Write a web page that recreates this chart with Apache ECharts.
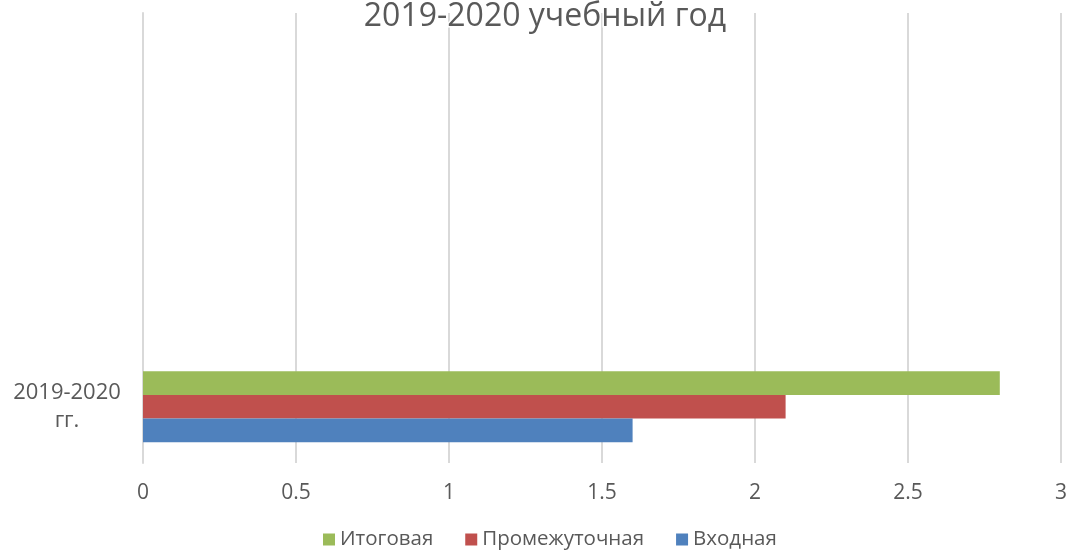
<!DOCTYPE html>
<html><head><meta charset="utf-8">
<script src="https://cdn.jsdelivr.net/npm/echarts@6/dist/echarts.min.js"></script>
<style>html,body{margin:0;padding:0;background:#fff}#c{width:1072px;height:550px}</style>
</head><body><div id="c"></div>
<script>
const titleText = '2019-2020 учебный год';
const categories = ['2019-2020 гг.', '', '', ''];
const seriesNames = ['Итоговая', 'Промежуточная', 'Входная'];
const itog = [2.8, null, null, null];
const promezh = [2.1, null, null, null];
const vhodnaya = [1.6, null, null, null];
const legendOrder = ['Итоговая', 'Промежуточная', 'Входная'];
const colors = ['#9BBB59', '#C0504D', '#4F81BD'];
const xTicks = {min: 0, max: 3, interval: 0.5};

const font = '"Open Sans", sans-serif';
const chart = echarts.init(document.getElementById('c'), null, {renderer: 'canvas'});
const values = [itog, promezh, vhodnaya];
chart.setOption({
  animation: false,
  color: colors,
  title: {
    text: titleText, left: 540, top: -4, textAlign: 'center',
    textStyle: {fontFamily: font, fontSize: 32, fontWeight: 'normal', color: '#595959',
      textBorderColor: '#fff', textBorderWidth: 3}
  },
  legend: {
    data: legendOrder, bottom: -5, left: 318, itemWidth: 12, itemHeight: 12,
    itemGap: 32, icon: 'rect',
    textStyle: {fontFamily: font, fontSize: 20.5, color: '#595959'}
  },
  grid: {left: 143, right: 11, top: 13, bottom: 87, containLabel: false},
  xAxis: {
    type: 'value', min: xTicks.min, max: xTicks.max, interval: xTicks.interval,
    axisLine: {show: false}, axisTick: {show: false},
    splitLine: {lineStyle: {color: '#D9D9D9', width: 2}},
    axisLabel: {fontFamily: font, fontSize: 21, color: '#595959', margin: 20}
  },
  yAxis: {
    type: 'category', data: categories,
    axisLine: {show: true, lineStyle: {color: '#D9D9D9', width: 2}},
    axisTick: {show: false},
    axisLabel: {fontFamily: font, fontSize: 22, color: '#595959', margin: 76,
      align: 'center', lineHeight: 28,
      formatter: v => v.replace(' ', '\n')}
  },
  series: seriesNames.map((n, i) => ({
    name: n, type: 'bar', data: values[i], barGap: '0%', barCategoryGap: '37%',
    z: 3
  }))
});
</script></body></html>
